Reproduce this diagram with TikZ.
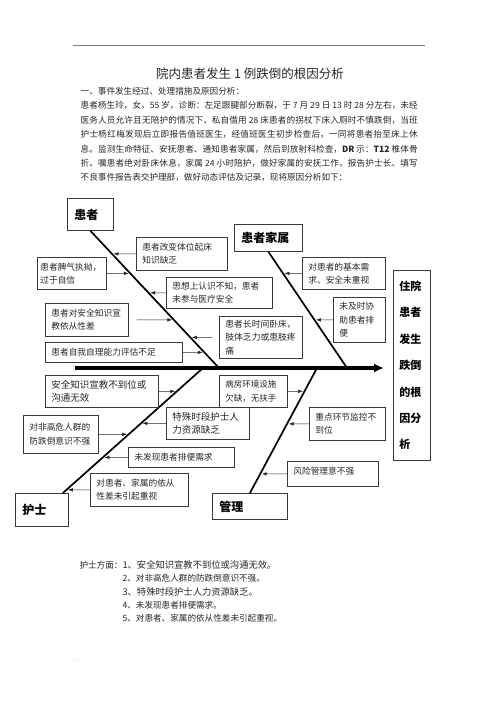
\documentclass[tikz,border=0pt]{standalone}
\usepackage{fontspec}
\setmainfont{Noto Sans CJK SC}
\usetikzlibrary{arrows.meta}
\XeTeXlinebreaklocale "zh"
\XeTeXlinebreakskip=0pt plus 2pt minus 0.3pt

\definecolor{ink}{HTML}{262626}
\definecolor{frame}{HTML}{3A3A3A}

\tikzset{
  cause/.style={draw=frame, line width=0.7pt, text=ink, align=left, anchor=north west,
    inner xsep=6pt, inner ysep=2pt, font=\fontsize{8.7}{13.3}\selectfont},
  category/.style={draw=frame, line width=0.9pt, text=black, align=left, anchor=north west,
    inner xsep=7pt, inner ysep=2pt, font=\fontsize{12}{14}\selectfont\bfseries},
  bone/.style={line width=1.7pt, black},
  branch/.style={->, line width=0.6pt, black!85, shorten >=1.5pt},
}

\begin{document}
\begin{tikzpicture}[x=1pt, y=-1pt, >={Latex[length=5pt,width=3.6pt]}]

    \useasboundingbox (0,0) rectangle (500,708);

    % Page header
    \draw[gray, line width=0.6pt] (73,45) -- (425,45);
    \node[font=\fontsize{5}{5}\selectfont, text=gray] (hdot) at (428,41) {.};

    % Title and account of the event
    \node[font=\fontsize{12.5}{14}\selectfont, text=ink] (title) at (250,73.5) {院内患者发生 1 例跌倒的根因分析};
    \node[anchor=north west, text width=337pt, align=justify, inner sep=0pt, text=ink,
          font=\fontsize{8.6}{14.4}\selectfont] (story) at (80.5,87) {\noindent
      一、事件发生经过、处理措施及原因分析：\\
      患者杨生玲，女，55 岁，诊断：左足跟腱部分断裂，于 7 月 29 日 13 时 28 分左右，未经\linebreak
      医务人员允许且无陪护的情况下，私自借用 28 床患者的拐杖下床入厕时不慎跌倒，当班\linebreak
      护士杨红梅发现后立即报告值班医生，经值班医生初步检查后，一同将患者抬至床上休\linebreak
      息。监测生命特征、安抚患者、通知患者家属，然后到放射科检查，{\bfseries DR} 示：{\bfseries T12} 椎体骨\linebreak
      折。嘱患者绝对卧床休息，家属 24 小时陪护，做好家属的安抚工作，报告护士长、填写\linebreak
      不良事件报告表交护理部，做好动态评估及记录，现将原因分析如下：};

    % Categories
    \node[category, text width=32pt, minimum height=32pt] (pcat) at (67,198) {患者};
    \node[category, text width=54pt, minimum height=27pt] (fcat) at (234,224) {患者家属};
    \node[category, text width=39pt, minimum height=33pt] (ncat) at (15,493) {护士};
    \node[category, text width=61pt, minimum height=26pt] (mcat) at (212,493) {管理};

    % Effect
    \node[draw=frame, line width=0.9pt, anchor=north west, text width=25pt, minimum height=190pt,
          inner xsep=6pt, align=left, font=\fontsize{11}{26.4}\selectfont\bfseries] (effect) at (393,270)
          {住院\\患者\\发生\\跌倒\\的根\\因分\\析};

    % Spine
    \coordinate (tail) at (75,368);
    \coordinate (head) at (384,368);
    \draw[line width=3.3pt, -{Latex[length=10pt,width=9pt]}] (tail) -- (head);

    % Bones
    \coordinate (pj) at (219,368);
    \coordinate (fj) at (347,368);
    \coordinate (nj) at (203,368);
    \coordinate (mj) at (317,368);
    \coordinate (ns) at ([xshift=-6pt]ncat.north east);
    \draw[bone] (pcat.south) -- (pj);
    \draw[bone] (fcat.south) -- (fj);
    \draw[bone] (ns) -- (nj);
    \draw[bone] (mcat.north) -- (mj);

    % Patient causes
    \node[cause, text width=79pt, minimum height=33pt] (c1) at (136,237) {患者改变体位起床\\知识缺乏};
    \node[cause, text width=63pt, minimum height=32pt, inner xsep=3pt] (c2) at (37,257) {患者脾气执拗，\\过于自信};
    \node[cause, text width=94pt, minimum height=31pt] (c3) at (166,277) {思想上认识不知，患者\\未参与医疗安全};
    \node[cause, text width=71pt, minimum height=33pt] (c4) at (45,303) {患者对安全知识宣\\教依从性差};
    \node[cause, text width=71pt, minimum height=42pt, font=\fontsize{8.8}{13.3}\selectfont] (c5) at (219,316) {患者长时间卧床，\\肢体乏力或患肢疼\\痛};
    \node[cause, text width=125pt, minimum height=20pt] (c6) at (45,342) {患者自我自理能力评估不足};

    \draw[branch] (c1.west) -- (intersection of c1.west--c1.east and pcat.south--pj);
    \draw[branch] (c2.east) -- (intersection of c2.west--c2.east and pcat.south--pj);
    \draw[branch] (c3.west) -- (intersection of c3.west--c3.east and pcat.south--pj);
    \draw[branch, shorten <=8pt] (c4.east) -- (intersection of c4.west--c4.east and pcat.south--pj);
    \draw[branch, shorten <=7pt] (c5.west) -- (intersection of c5.west--c5.east and pcat.south--pj);
    \draw[branch] (c6.east) -- (intersection of c6.west--c6.east and pcat.south--pj);

    % Family causes
    \node[cause, text width=71pt, minimum height=32pt] (c7) at (302,257) {对患者的基本需\\求、安全未重视};
    \node[cause, text width=40pt, minimum height=45pt] (c8) at (333,297) {未及时协\\助患者排\\便};

    \draw[branch] (c7.west) -- (intersection of c7.west--c7.east and fcat.south--fj);
    \draw[branch] (c8.west) -- (intersection of c8.west--c8.east and fcat.south--fj);

    % Nurse causes
    \node[cause, text width=101pt, minimum height=32pt, font=\fontsize{9.5}{13.3}\selectfont] (n1) at (45,375) {安全知识宣教不到位或\\沟通无效};
    \node[cause, text width=71pt, minimum height=32pt, font=\fontsize{9.5}{13.3}\selectfont] (n2) at (166,407) {特殊时段护士人\\力资源缺乏};
    \node[cause, text width=63pt, minimum height=38pt] (n3) at (23,415) {对非高危人群的\\防跌倒意识不强};
    \node[cause, text width=94pt, minimum height=20pt] (n4) at (128,447) {未发现患者排便需求};
    \node[cause, text width=86pt, minimum height=33pt] (n5) at (90,473) {对患者、家属的依从\\性差未引起重视};

    \draw[branch] (n1.east) -- (intersection of n1.west--n1.east and ns--nj);
    \draw[branch] (n2.west) -- (intersection of n2.west--n2.east and ns--nj);
    \draw[branch] (n3.east) -- (intersection of n3.west--n3.east and ns--nj);
    \draw[branch] (n4.west) -- (intersection of n4.west--n4.east and ns--nj);
    \draw[branch] (n5.west) -- (intersection of n5.west--n5.east and ns--nj);

    % Management causes
    \node[cause, text width=56pt, minimum height=32pt, font=\fontsize{8.5}{13.3}\selectfont] (m1) at (219,375) {病房环境设施\\欠缺，无扶手};
    \node[cause, text width=64pt, minimum height=33pt] (m2) at (309,407) {重点环节监控不\\到位};
    \node[cause, text width=79pt, minimum height=25pt, text depth=7pt] (m3) at (287,461) {风险管理意不强};

    \draw[branch] (m1.east) -- (intersection of m1.west--m1.east and mcat.north--mj);
    \draw[branch] (m2.west) -- (intersection of m2.west--m2.east and mcat.north--mj);
    \draw[branch] (m3.west) -- (intersection of m3.west--m3.east and mcat.north--mj);

    % Summary for the nurse side
    \node[anchor=base west, text=ink, font=\fontsize{8.6}{10}\selectfont] (sum) at (76,568.5) {护士方面：};
    \node[anchor=base west, text=ink, font=\fontsize{9.3}{10}\selectfont] (s1) at (119,568.5) {1、安全知识宣教不到位或沟通无效。};
    \node[anchor=base west, text=ink, font=\fontsize{8.6}{10}\selectfont] (s2) at (119,581.8) {2、对非高危人群的防跌倒意识不强。};
    \node[anchor=base west, text=ink, font=\fontsize{9.3}{10}\selectfont] (s3) at (119,595.2) {3、特殊时段护士人力资源缺乏。};
    \node[anchor=base west, text=ink, font=\fontsize{8.6}{10}\selectfont] (s4) at (119,608.5) {4、未发现患者排便需求。};
    \node[anchor=base west, text=ink, font=\fontsize{8.6}{10}\selectfont] (s5) at (119,621.8) {5、对患者、家属的依从性差未引起重视。};

    % Footer
    \node[font=\fontsize{5}{5}\selectfont, text=gray] (fdot) at (78,660) {. .};

\end{tikzpicture}
\end{document}
